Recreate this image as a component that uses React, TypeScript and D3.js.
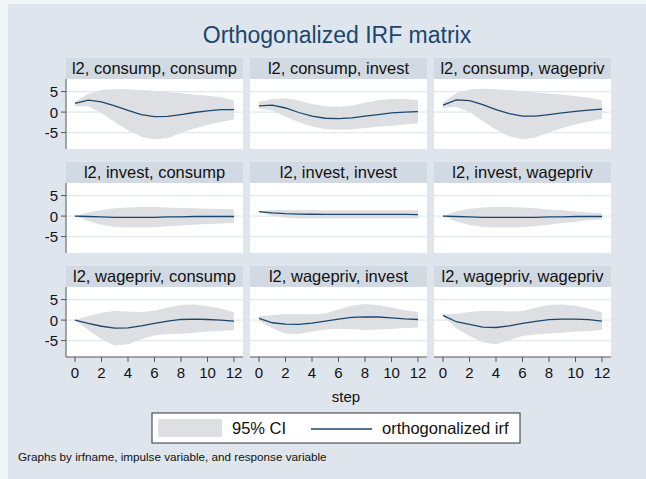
import React from "react";
import * as d3 from "d3";

// steps 0..12
const steps = [0, 1, 2, 3, 4, 5, 6, 7, 8, 9, 10, 11, 12];
const xTicks = [0, 2, 4, 6, 8, 10, 12];
const yTicks = [-5, 0, 5];

const panelTitles = [
  "l2, consump, consump", "l2, consump, invest", "l2, consump, wagepriv",
  "l2, invest, consump", "l2, invest, invest", "l2, invest, wagepriv",
  "l2, wagepriv, consump", "l2, wagepriv, invest", "l2, wagepriv, wagepriv",
];

// orthogonalized irf per panel
const irf = [
  [2.1, 2.9, 2.5, 1.5, 0.4, -0.6, -1.1, -1.05, -0.6, -0.1, 0.3, 0.6, 0.6],
  [1.5, 1.7, 1.0, -0.1, -1.0, -1.5, -1.6, -1.4, -1.0, -0.6, -0.2, 0.0, 0.1],
  [1.7, 3.0, 2.8, 1.8, 0.6, -0.4, -1.0, -1.0, -0.6, -0.2, 0.2, 0.5, 0.7],
  [0, -0.1, -0.2, -0.3, -0.3, -0.3, -0.3, -0.2, -0.2, -0.1, -0.1, -0.1, -0.1],
  [1.1, 0.8, 0.6, 0.5, 0.45, 0.4, 0.4, 0.4, 0.4, 0.4, 0.4, 0.4, 0.35],
  [0, -0.1, -0.2, -0.3, -0.3, -0.3, -0.3, -0.3, -0.2, -0.2, -0.1, -0.1, -0.1],
  [0, -0.8, -1.5, -1.95, -1.9, -1.4, -0.8, -0.25, 0.15, 0.25, 0.15, 0, -0.25],
  [0.4, -0.65, -1.0, -1.05, -0.75, -0.25, 0.25, 0.65, 0.8, 0.75, 0.55, 0.3, 0.15],
  [1.15, -0.4, -1.05, -1.7, -1.8, -1.4, -0.8, -0.3, 0.1, 0.25, 0.25, 0.1, -0.25],
];

// 95% CI bounds
const upper = [
  [2.5, 4.5, 5.4, 5.6, 5.6, 5.4, 5.2, 4.9, 4.6, 4.3, 4.0, 3.6, 2.8],
  [2.5, 3.2, 3.4, 2.8, 2.0, 1.4, 1.3, 1.6, 2.3, 2.9, 3.2, 3.2, 2.9],
  [2.3, 4.6, 5.5, 5.7, 5.6, 5.4, 5.1, 4.8, 4.5, 4.2, 3.9, 3.5, 2.9],
  [0, 0.9, 1.5, 1.9, 2.1, 2.2, 2.2, 2.1, 2.0, 1.9, 1.8, 1.7, 1.6],
  [1.2, 1.5, 1.5, 1.5, 1.5, 1.4, 1.4, 1.4, 1.4, 1.4, 1.4, 1.4, 1.4],
  [0, 1.2, 1.8, 2.1, 2.2, 2.2, 2.1, 1.9, 1.6, 1.4, 1.1, 0.9, 0.7],
  [0, 1.0, 1.8, 2.2, 2.1, 2.0, 2.3, 3.1, 3.7, 3.8, 3.4, 2.8, 1.9],
  [1.0, 1.2, 1.5, 1.4, 1.4, 1.6, 2.6, 3.5, 3.9, 3.7, 3.1, 2.4, 2.0],
  [1.4, 1.5, 2.0, 2.2, 2.2, 2.1, 2.2, 3.0, 3.7, 3.8, 3.5, 2.8, 1.9],
];
const lower = [
  [1.4, 1.4, -0.3, -2.4, -4.4, -6.0, -6.7, -6.3, -5.1, -4.0, -3.1, -2.4, -1.8],
  [0.9, 0.4, -1.1, -2.5, -3.5, -4.1, -4.3, -4.2, -3.9, -3.6, -3.3, -3.0, -2.7],
  [1.0, 1.3, 0.0, -2.2, -4.3, -5.9, -6.6, -6.2, -5.0, -3.9, -3.0, -2.3, -1.6],
  [0, -1.2, -2.1, -2.6, -2.8, -2.8, -2.7, -2.5, -2.3, -2.1, -1.9, -1.8, -1.7],
  [0.9, 0.1, -0.4, -0.6, -0.6, -0.6, -0.6, -0.6, -0.6, -0.6, -0.6, -0.6, -0.6],
  [0, -1.3, -2.2, -2.6, -2.8, -2.8, -2.7, -2.4, -2.1, -1.7, -1.4, -1.0, -0.8],
  [0, -2.4, -4.7, -6.2, -5.9, -4.7, -3.7, -3.4, -3.3, -3.1, -2.8, -2.6, -2.4],
  [-0.2, -2.0, -3.3, -3.4, -2.8, -2.3, -2.1, -2.2, -2.4, -2.3, -2.1, -1.95, -1.8],
  [0.8, -2.0, -3.9, -5.4, -5.9, -4.9, -3.9, -3.5, -3.25, -3.1, -2.8, -2.7, -2.35],
];

const W = 646;
const H = 479;
const colX = [66, 250, 434];
const panelW = 177;
const rowTop = [58, 162, 266];
const headH = 21;
const plotH = 70;
const font = "'Liberation Sans', Arial, Helvetica, sans-serif";
const navy = "#1a476f";

export default function App() {
  const x = d3.scaleLinear().domain([-0.68, 12.68]).range([0, panelW]);
  const y = d3.scaleLinear().domain([-9, 8.07]).range([plotH, 0]);
  const line = d3.line<number>().x((_, i) => x(steps[i])).y((d) => y(d));
  const band = (p: number) =>
    d3.area<number>()
      .x((s) => x(s))
      .y0((_, i) => y(lower[p][i]))
      .y1((_, i) => y(upper[p][i]))(steps) || "";

  return (
    <svg width={W} height={H} style={{ display: "block", position: "absolute", left: 0, top: 0 }}>
      <rect width={W} height={H} fill="#f2f5f8" />
      <rect x={8} y={4} width={W - 8} height={H - 4} fill="#dfe5ed" />
      <text x={337} y={43} textAnchor="middle" fontFamily={font} fontSize={23} fill={navy}>
        Orthogonalized IRF matrix
      </text>
      {panelTitles.map((t, p) => {
        const r = Math.floor(p / 3);
        const c = p % 3;
        const px = colX[c];
        const top = rowTop[r];
        return (
          <g key={p} transform={`translate(${px},${top})`}>
            <rect width={panelW} height={headH} fill="#d1d9e3" />
            <text x={panelW / 2} y={16} textAnchor="middle" fontFamily={font} fontSize={16.5} fill="#111">
              {t}
            </text>
            <g transform={`translate(0,${headH})`}>
              <rect width={panelW} height={plotH} fill="#ffffff" />
              {yTicks.map((v) => (
                <line key={v} x1={0} x2={panelW} y1={y(v)} y2={y(v)} stroke="#e1e8ee" strokeWidth={1.3} />
              ))}
              <path d={band(p)} fill="#dddfe3" />
              <path d={line(irf[p]) || ""} fill="none" stroke={navy} strokeWidth={1.3} />
              {c === 0 && (
                <g>
                  <line x1={0} x2={0} y1={0} y2={plotH} stroke="#555" strokeWidth={1} />
                  {yTicks.map((v) => (
                    <g key={v}>
                      <line x1={-5} x2={0} y1={y(v)} y2={y(v)} stroke="#555" />
                      <text x={-8} y={y(v) + 5.5} textAnchor="end" fontFamily={font} fontSize={15} fill="#111">
                        {v}
                      </text>
                    </g>
                  ))}
                </g>
              )}
              {r === 2 && (
                <g transform={`translate(0,${plotH})`}>
                  <line x1={0} x2={panelW} y1={0} y2={0} stroke="#555" strokeWidth={1} />
                  {xTicks.map((v) => (
                    <g key={v}>
                      <line x1={x(v)} x2={x(v)} y1={0} y2={5} stroke="#555" />
                      <text x={x(v)} y={21} textAnchor="middle" fontFamily={font} fontSize={15} fill="#111">
                        {v}
                      </text>
                    </g>
                  ))}
                </g>
              )}
            </g>
          </g>
        );
      })}
      <text x={346} y={402} textAnchor="middle" fontFamily={font} fontSize={15} fill="#111">
        step
      </text>
      <g transform="translate(152,413)">
        <rect width={368} height={30} fill="#ffffff" stroke="#333" strokeWidth={1} />
        <rect x={6} y={6} width={64} height={18} fill="#dddfe3" />
        <text x={80} y={21} fontFamily={font} fontSize={16.5} fill="#111">95% CI</text>
        <line x1={159} x2={220} y1={16} y2={16} stroke={navy} strokeWidth={1.3} />
        <text x={230} y={21} fontFamily={font} fontSize={16.5} fill="#111">orthogonalized irf</text>
      </g>
      <text x={18} y={461} fontFamily={font} fontSize={11.7} fill="#111">
        Graphs by irfname, impulse variable, and response variable
      </text>
    </svg>
  );
}
